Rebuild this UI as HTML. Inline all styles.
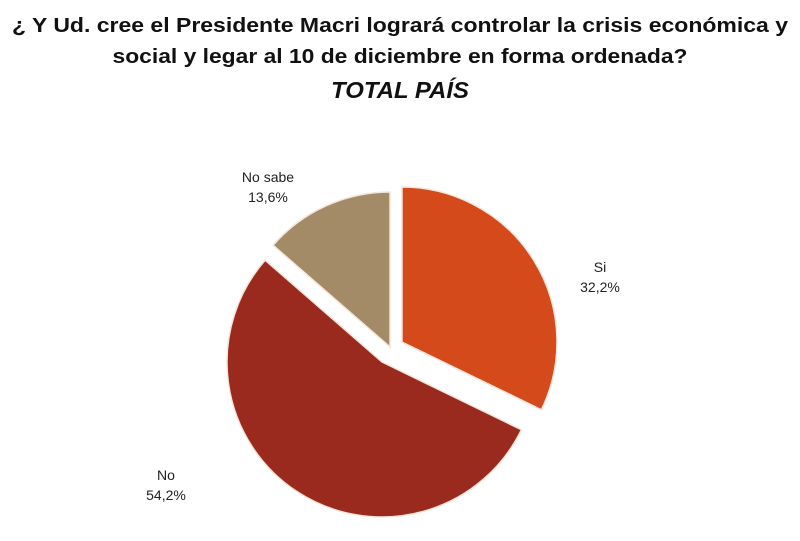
<!DOCTYPE html>
<html><head><meta charset="utf-8"><style>
html,body{margin:0;padding:0;background:#fff;width:800px;height:541px;overflow:hidden}
svg{display:block}
</style></head><body>
<svg id="chart" width="800" height="541" viewBox="0 0 800 541" font-family="'Liberation Sans', sans-serif">
<text x="400" y="32" text-anchor="middle" font-size="20" font-weight="bold" fill="#111" textLength="776" lengthAdjust="spacingAndGlyphs">¿ Y Ud. cree el Presidente Macri logrará controlar la crisis económica y</text>
<text x="400" y="63" text-anchor="middle" font-size="20" font-weight="bold" fill="#111" textLength="575" lengthAdjust="spacingAndGlyphs">social y legar al 10 de diciembre en forma ordenada?</text>
<text x="400" y="98" text-anchor="middle" font-size="23" font-weight="bold" font-style="italic" fill="#111" textLength="138" lengthAdjust="spacingAndGlyphs">TOTAL PAÍS</text>
<g id="slices"></g>
<g id="labels" font-size="14" fill="#222" text-anchor="middle"></g>
</svg>
<script>
const categories = ["Si", "No", "No sabe"];
const values = [32.2, 54.2, 13.6];
const valueLabels = ["32,2%", "54,2%", "13,6%"];
const colors = ["#d44a1a", "#9b2a1e", "#a38b68"];
const R = 155;
const centers = [[402,342],[382,362],[390,347]];
const labelPos = [[600,272],[166,480],[268,182]];
const total = values.reduce((a,b)=>a+b,0);
const NS="http://www.w3.org/2000/svg";
const gS=document.getElementById('slices'), gL=document.getElementById('labels');
let a0=0;
function pt(c,a){return [c[0]+R*Math.sin(a), c[1]-R*Math.cos(a)];}
values.forEach((v,i)=>{
  const a1=a0+v/total*2*Math.PI;
  const c=centers[i];
  const p0=pt(c,a0), p1=pt(c,a1);
  const large=(a1-a0)>Math.PI?1:0;
  const path=document.createElementNS(NS,'path');
  path.setAttribute('d',`M${c[0]},${c[1]} L${p0[0]},${p0[1]} A${R},${R} 0 ${large} 1 ${p1[0]},${p1[1]} Z`);
  path.setAttribute('fill',colors[i]);
  path.setAttribute('stroke','#f3e6dc');
  path.setAttribute('stroke-width','1.5');
  
  
  gS.appendChild(path);
  const t=document.createElementNS(NS,'text');
  t.setAttribute('x',labelPos[i][0]); t.setAttribute('y',labelPos[i][1]);
  
  
  const s1=document.createElementNS(NS,'tspan'); s1.setAttribute('x',labelPos[i][0]); s1.textContent=categories[i];
  const s2=document.createElementNS(NS,'tspan'); s2.setAttribute('x',labelPos[i][0]); s2.setAttribute('dy','20'); s2.textContent=valueLabels[i];
  t.appendChild(s1); t.appendChild(s2); gL.appendChild(t);
  a0=a1;
});
</script>
</body></html>
